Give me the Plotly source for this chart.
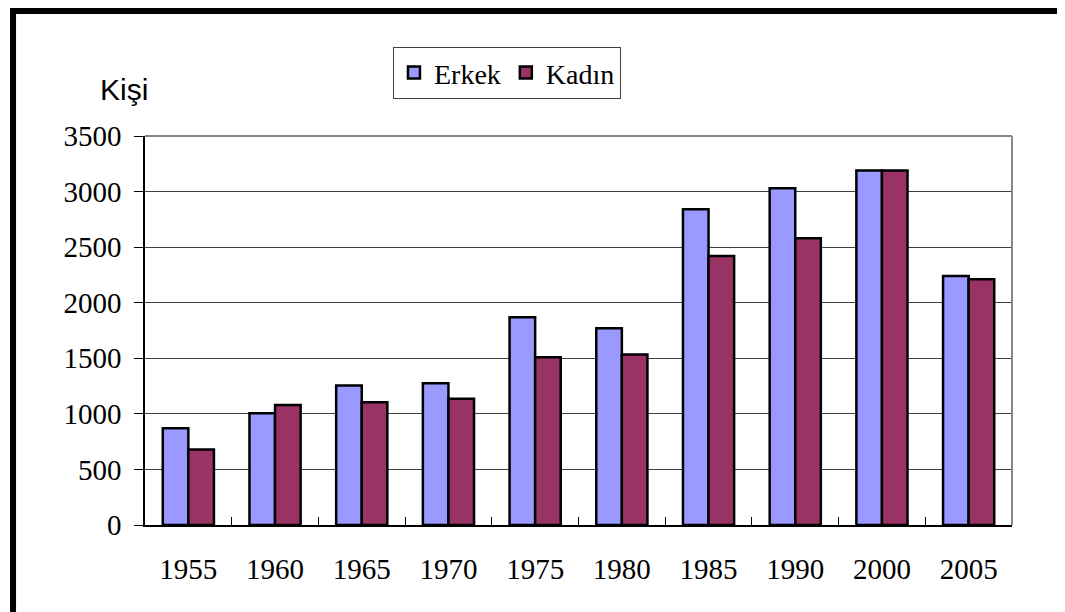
import plotly.graph_objects as go

years = ["1955", "1960", "1965", "1970", "1975", "1980", "1985", "1990", "2000", "2005"]
erkek = [870, 1005, 1255, 1275, 1870, 1770, 2840, 3030, 3190, 2240]
kadin = [680, 1080, 1105, 1135, 1510, 1535, 2420, 2580, 3190, 2210]
y_ticks = [0, 500, 1000, 1500, 2000, 2500, 3000, 3500]

serif = "Liberation Serif, Times New Roman, serif"
sans = "Liberation Sans, Arial, sans-serif"

fig = go.Figure()
fig.add_trace(go.Bar(x=years, y=erkek, name="Erkek",
                     marker=dict(color="#9999FF", line=dict(color="black", width=2.5))))
fig.add_trace(go.Bar(x=years, y=kadin, name="Kadın",
                     marker=dict(color="#993366", line=dict(color="black", width=2.5))))

fig.update_layout(
    width=1057, height=604,
    margin=dict(l=137, r=53, t=128, b=87),
    paper_bgcolor="white", plot_bgcolor="white",
    barmode="group", bargap=0.41, bargroupgap=0,
    font=dict(family=serif, size=29, color="black"),
    showlegend=True,
    legend=dict(orientation="h", x=0.286, y=1.229, xanchor="left", yanchor="top",
                bordercolor="#404040", borderwidth=1, bgcolor="white",
                font=dict(family=serif, size=28, color="black"),
                itemwidth=30, tracegroupgap=0),
    xaxis=dict(type="category", showline=True, linecolor="black", linewidth=1.5,
               ticks="inside", tickson="boundaries", ticklen=8, tickcolor="black",
               tickfont=dict(family=serif, size=29), ticklabelstandoff=17,
               showgrid=False, mirror=False, fixedrange=True),
    yaxis=dict(range=[0, 3500], tickvals=y_ticks, showline=True, linecolor="black",
               linewidth=1.5, ticks="outside", ticklen=9, tickcolor="black",
               tickfont=dict(family=serif, size=29), ticklabelstandoff=7, showgrid=True,
               gridcolor="#404040", gridwidth=1, zeroline=False, fixedrange=True),
    annotations=[dict(text="Kişi", xref="paper", yref="paper", x=-0.024, y=1.072,
                      xanchor="center", yanchor="bottom", showarrow=False,
                      font=dict(family=sans, size=30, color="black"))],
    shapes=[
        dict(type="line", xref="paper", yref="paper", x0=0, x1=1, y0=1, y1=1,
             line=dict(color="#888888", width=2)),
        dict(type="line", xref="paper", yref="paper", x0=1, x1=1, y0=0, y1=1,
             line=dict(color="#888888", width=2)),
        dict(type="rect", xref="paper", yref="paper", x0=-0.1522, x1=1.25,
             y0=-0.4, y1=1.3213, line=dict(color="black", width=6)),
    ],
)

fig.write_html("out.html")
